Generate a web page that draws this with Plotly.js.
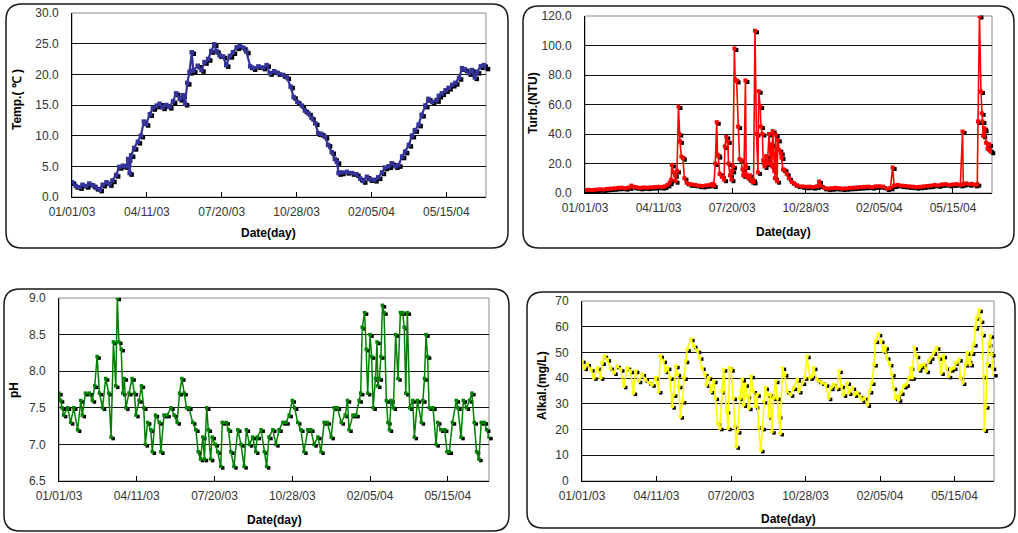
<!DOCTYPE html>
<html><head><meta charset="utf-8">
<script src="https://cdn.plot.ly/plotly-3.0.1.min.js"></script>
<style>html,body{margin:0;padding:0;background:#fff}#chart{width:1018px;height:533px}</style>
</head><body><div id="chart"></div>
<script>
const W = 1018, H = 533;

// x axis: days since 01/01/03
const tickDays = [0, 100, 200, 300, 400, 500];
const tickText = ['01/01/03', '04/11/03', '07/20/03', '10/28/03', '02/05/04', '05/15/04'];

// Temperature (deg C)
const tempDay = [0,5,10,14,19,23,28,32,37,41,46,50,54,59,63,68,72,75,77,79,83,88,92,96,99,104,108,113,117,121,126,130,135,139,144,148,151,154,157,160,162,168,173,177,182,186,190,193,197,202,206,211,215,220,224,229,233,238,242,249,255,260,264,270,275,282,287,292,296,301,307,311,316,320,325,329,333,338,342,347,351,354,356,360,367,374,380,385,389,394,398,404,409,414,418,423,427,432,436,441,445,450,454,458,463,467,472,476,481,487,490,494,499,503,508,512,517,521,525,530,534,538,541,546,550,553];
const tempVal = [2.4,1.8,1.6,2.0,1.8,2.2,1.9,1.5,1.2,2.0,2.4,2.1,2.7,3.6,4.9,5.1,5.0,6.2,3.9,6.8,8.0,9.0,10.0,12.3,11.9,13.5,14.5,14.9,15.2,14.6,15.0,14.7,15.6,16.9,16.0,16.6,15.2,18.6,20.4,23.6,20.6,21.4,20.7,22.0,22.5,23.8,24.9,23.8,23.1,22.9,21.5,23.0,23.6,24.4,24.6,24.3,23.7,21.3,21.0,21.3,21.1,21.5,20.2,20.5,20.2,19.9,19.5,18.0,16.3,15.5,14.9,14.1,13.6,12.9,12.0,10.4,10.3,9.8,8.5,7.3,6.2,5.7,3.9,4.0,4.1,3.9,3.7,3.0,2.6,3.3,2.9,2.8,3.2,4.0,4.8,5.0,5.5,5.0,5.2,6.6,7.4,8.5,10.0,10.9,11.8,13.4,14.9,16.0,15.5,15.8,16.5,16.9,17.4,17.8,18.3,18.6,19.4,21.0,20.8,20.2,20.7,19.5,20.4,21.3,21.5,21.1];

// Turbidity (NTU)
const turbDay = [0,5,10,15,20,25,30,35,40,45,50,55,60,63,66,70,75,80,85,90,95,100,105,108,112,115,117,118,120,122,123,125,127,128,129,131,133,135,138,142,145,150,155,160,165,170,173,175,177,179,180,181,183,186,189,190,192,194,195,197,199,200,201,203,204,206,208,210,212,214,215,216,218,219,220,222,224,226,228,229,231,233,235,236,238,239,241,242,243,244,246,247,248,250,252,253,254,255,257,258,259,261,262,264,266,267,269,271,274,277,281,285,289,295,300,305,310,315,318,320,325,330,335,340,345,350,355,360,365,370,375,380,385,390,395,400,405,410,415,418,420,425,430,435,440,445,450,455,460,465,470,475,480,485,490,495,500,505,510,513,514,518,522,526,530,533,534,536,538,539,540,541,542,543,545,547,549,550,552];
const turbVal = [2.0,2.2,2.0,2.3,2.5,2.4,2.8,3.0,3.2,3.5,3.6,3.3,3.8,5.0,4.2,3.9,3.5,3.8,3.6,3.9,4.0,4.2,4.0,4.5,5.5,7.0,9.0,19.0,14.0,12.0,8.0,15.0,58.6,40.0,35.0,24.7,23.6,10.0,7.0,6.0,5.8,5.5,5.0,4.8,5.2,5.5,6.2,5.0,20.0,48.0,26.0,25.0,13.0,11.0,9.0,31.5,38.0,35.0,20.0,12.0,9.0,15.0,18.0,98.0,77.0,76.0,45.0,23.0,22.0,16.0,12.0,13.0,76.3,18.0,11.0,10.0,12.0,8.0,9.0,7.5,110.0,40.0,14.0,69.0,58.6,45.0,40.0,22.0,20.0,18.0,25.0,22.0,20.0,40.0,20.0,33.0,18.0,42.0,15.0,10.0,39.4,8.0,36.0,29.0,27.0,24.0,16.0,15.7,13.0,10.0,7.5,6.0,5.0,4.5,4.2,4.3,4.0,4.5,7.8,5.0,3.5,3.0,3.2,3.5,3.3,3.0,3.2,3.5,3.6,3.8,4.0,4.2,4.3,4.0,4.5,4.6,4.3,3.0,3.5,17.3,5.0,5.5,5.0,4.8,4.5,4.3,4.0,4.2,4.5,4.8,5.0,5.5,5.2,5.8,6.0,5.5,5.8,6.0,5.5,41.7,6.0,6.5,6.0,6.2,5.5,6.0,48.5,120.0,68.8,54.0,48.5,38.8,44.0,42.8,34.0,30.0,33.0,29.0,28.0];

// pH
const phDay = [0,2,4,6,11,15,19,24,28,30,34,39,43,46,49,52,56,60,64,67,70,73,75,77,80,82,84,86,90,94,97,99,103,106,109,111,114,118,120,124,129,131,135,139,144,148,152,155,158,161,164,167,172,176,179,182,185,187,190,192,195,197,201,204,208,210,215,218,221,225,230,234,238,241,245,249,253,255,260,264,267,270,275,279,283,288,292,296,300,303,307,311,315,320,324,328,333,337,341,345,350,354,358,363,368,371,373,378,382,386,388,390,393,395,397,400,402,404,407,409,410,412,414,416,418,421,423,425,427,430,433,436,439,442,444,446,448,451,455,457,461,466,468,470,472,474,476,481,485,487,491,496,499,502,506,511,513,517,520,524,528,531,534,537,540,543,547,550,553];
const phVal = [7.7,7.6,7.5,7.4,7.5,7.3,7.5,7.2,7.6,7.4,7.7,7.7,7.6,7.8,8.2,7.7,7.5,7.9,7.7,7.1,8.4,7.8,9.0,8.4,8.3,7.7,7.9,7.5,7.7,7.9,7.7,7.4,7.6,7.8,7.5,7.0,7.3,7.2,6.9,7.4,7.3,6.9,7.4,7.4,7.5,7.4,7.3,7.7,7.9,7.7,7.5,7.5,7.3,7.2,6.9,6.8,7.1,6.8,7.5,7.2,6.8,7.1,7.0,6.9,6.7,7.3,7.3,7.2,6.9,6.7,7.2,7.0,6.7,7.2,7.0,7.1,6.9,7.1,7.2,6.9,6.7,7.1,7.2,7.0,7.2,7.3,7.3,7.4,7.6,7.5,7.3,7.2,6.9,7.2,7.2,7.0,7.1,6.9,7.3,7.3,7.1,7.5,7.5,7.3,7.4,7.6,7.2,7.4,7.4,7.6,7.7,8.6,8.8,8.3,7.7,8.5,8.2,7.5,7.9,8.4,7.8,7.9,8.2,8.9,8.8,7.6,7.3,7.2,7.6,7.5,8.5,7.9,8.8,8.8,8.6,7.7,8.8,7.5,7.6,7.1,7.6,7.3,7.6,7.9,8.5,8.2,7.5,7.5,7.0,7.3,7.2,7.2,6.9,6.9,7.3,7.6,7.5,7.1,7.6,7.5,7.6,7.7,7.3,6.9,6.8,7.3,7.3,7.2,7.1];

// Alkalinity (mg/L)
const alkDay = [0,3,7,12,16,21,25,27,30,34,38,43,47,52,56,61,65,69,72,76,81,85,90,94,99,103,105,109,112,115,118,121,123,126,128,130,132,135,137,139,141,146,150,155,158,161,165,167,170,173,177,179,182,185,188,190,194,196,198,200,203,205,207,209,212,215,217,219,222,224,227,230,233,235,237,240,242,244,246,249,251,253,255,257,260,262,264,266,269,272,275,280,284,289,291,296,299,302,306,309,311,315,318,322,327,331,334,338,342,345,348,351,356,358,363,366,369,373,376,379,383,386,389,392,394,398,401,405,407,409,413,416,418,421,423,425,428,432,435,439,441,443,446,449,452,455,459,462,465,468,472,476,479,482,485,489,492,495,499,502,506,508,511,515,517,519,521,523,526,528,530,533,535,537,539,540,542,544,546,548,550,551,553];
const alkVal = [46.7,44.0,45.4,43.4,40.2,44.0,40.2,46.0,48.6,47.3,44.0,42.1,44.7,43.4,36.9,44.0,42.8,34.3,42.8,38.9,41.5,39.5,38.2,37.5,40.2,34.9,48.6,46.7,42.8,44.0,40.2,29.0,33.6,44.7,41.5,36.9,25.1,31.0,40.2,46.7,51.2,55.2,52.5,50.6,48.0,44.0,41.5,37.5,40.2,34.9,38.9,32.3,22.5,20.6,34.9,43.4,27.1,20.6,44.0,43.4,32.3,21.2,13.4,19.3,32.3,39.5,29.7,37.5,33.0,28.4,40.8,34.9,29.0,33.6,21.2,12.0,20.6,31.0,36.2,33.6,25.1,33.6,19.3,32.3,38.9,32.3,25.1,18.6,44.0,41.5,34.9,33.6,36.2,39.5,34.9,38.2,40.2,48.6,40.2,40.8,44.0,39.5,38.9,38.2,37.5,32.3,36.2,37.5,36.2,42.8,36.9,33.6,38.2,34.3,36.2,33.6,34.3,33.0,31.7,32.3,29.7,34.9,38.2,45.4,54.5,57.1,54.5,50.6,51.9,48.0,45.4,41.5,36.2,32.3,33.0,31.7,34.3,36.9,37.5,40.2,44.0,40.2,51.9,48.6,43.4,44.7,45.4,42.8,46.7,48.0,49.9,51.9,48.0,42.1,48.6,44.0,40.8,43.4,44.0,46.0,47.3,40.2,38.2,45.4,49.9,46.7,45.4,49.9,53.2,59.7,63.6,66.5,62.3,57.1,40.8,19.9,29.0,45.4,53.2,56.5,49.3,44.0,41.5];

const FONT = 'Liberation Sans, Arial, sans-serif';
const xMax = 553;

const panels = [
  {day: tempDay, val: tempVal, color: '#333399', lw: 2.2, ms: 4.5, yr: [0, 30], dt: 5, fmt: '.1f', plot: [72, 13, 486, 197], frame: [6, 4, 508, 248], yt: 'Temp.( ℃ )', ytp: [17, 100], xtp: [268, 233]},
  {day: turbDay, val: turbVal, color: '#ff0000', lw: 1.6, ms: 4, yr: [0, 120], dt: 20, fmt: '.1f', plot: [585, 16, 992, 193], frame: [523, 6, 1014, 248], yt: 'Turb.(NTU)', ytp: [533, 103], xtp: [783, 232]},
  {day: phDay, val: phVal, color: '#008000', lw: 1.5, ms: 3.5, yr: [6.5, 9.0], dt: 0.5, fmt: '.1f', plot: [59, 298, 489, 481], frame: [4, 289, 509, 531], yt: 'pH', ytp: [14, 390], xtp: [274, 520]},
  {day: alkDay, val: alkVal, color: '#ffff00', lw: 1.6, ms: 3.5, yr: [0, 70], dt: 10, fmt: 'd', plot: [582, 301, 994, 481], frame: [527, 292, 1015, 528], yt: 'Alkal.(mg/L)', ytp: [542, 386], xtp: [788, 519]}
];

const X = px => px / W;
const Y = py => 1 - py / H;

function roundRect(x0, y0, x1, y1, r) {
  return 'M' + X(x0 + r) + ',' + Y(y0) + ' L' + X(x1 - r) + ',' + Y(y0) +
    ' Q' + X(x1) + ',' + Y(y0) + ' ' + X(x1) + ',' + Y(y0 + r) +
    ' L' + X(x1) + ',' + Y(y1 - r) +
    ' Q' + X(x1) + ',' + Y(y1) + ' ' + X(x1 - r) + ',' + Y(y1) +
    ' L' + X(x0 + r) + ',' + Y(y1) +
    ' Q' + X(x0) + ',' + Y(y1) + ' ' + X(x0) + ',' + Y(y1 - r) +
    ' L' + X(x0) + ',' + Y(y0 + r) +
    ' Q' + X(x0) + ',' + Y(y0) + ' ' + X(x0 + r) + ',' + Y(y0) + ' Z';
}

const data = [];
const layout = {
  width: W, height: H,
  margin: {l: 0, r: 0, t: 0, b: 0},
  paper_bgcolor: '#ffffff', plot_bgcolor: 'rgba(0,0,0,0)',
  showlegend: false,
  shapes: [], annotations: []
};
const sfx = n => (n === 1 ? '' : String(n));
const dx = 2, dy = 1.5;

// shadow subplots first (drawn underneath)
panels.forEach((p, i) => {
  const n = i + 1;
  const [l, t, r, b] = p.plot;
  layout['xaxis' + sfx(n)] = {domain: [X(l + dx), X(r + dx)], range: [0, xMax], visible: false, anchor: 'y' + sfx(n), fixedrange: true};
  layout['yaxis' + sfx(n)] = {domain: [Y(b + dy), Y(t + dy)], range: p.yr, visible: false, anchor: 'x' + sfx(n), fixedrange: true};
  data.push({x: p.day, y: p.val, xaxis: 'x' + sfx(n), yaxis: 'y' + sfx(n), type: 'scatter', mode: 'markers',
    marker: {symbol: 'square', size: p.ms, color: '#000000'}, hoverinfo: 'skip', cliponaxis: false});
});

panels.forEach((p, i) => {
  const n = i + 5;
  const [l, t, r, b] = p.plot;
  layout['xaxis' + n] = {
    domain: [X(l), X(r)], range: [0, xMax], anchor: 'y' + n,
    tickmode: 'array', tickvals: tickDays, ticktext: tickText,
    ticks: 'inside', ticklen: 5, tickwidth: 1, tickcolor: '#000',
    showline: true, linecolor: '#000', linewidth: 1,
    showgrid: false, zeroline: false,
    tickfont: {family: FONT, size: 12, color: '#333'}, ticklabelstandoff: 4, fixedrange: true
  };
  layout['yaxis' + n] = {
    domain: [Y(b), Y(t)], range: p.yr, anchor: 'x' + n,
    tickmode: 'linear', tick0: p.yr[0], dtick: p.dt, tickformat: p.fmt,
    ticks: '', showline: true, linecolor: '#000', linewidth: 1,
    showgrid: true, gridcolor: '#111', gridwidth: 1, zeroline: false,
    tickfont: {family: FONT, size: 12, color: '#333'}, ticklabelstandoff: 10, fixedrange: true
  };
  data.push({x: p.day, y: p.val, xaxis: 'x' + n, yaxis: 'y' + n, type: 'scatter', mode: 'lines+markers',
    line: {color: p.color, width: p.lw}, marker: {symbol: 'square', size: p.ms, color: p.color}, hoverinfo: 'skip'});

  // plot-area outline (gray) and panel rounded frame
  layout.shapes.push({type: 'rect', xref: 'paper', yref: 'paper', x0: X(l), x1: X(r), y0: Y(b), y1: Y(t), line: {color: '#8c8c8c', width: 1}, layer: 'below'});
  const [fx0, fy0, fx1, fy1] = p.frame;
  layout.shapes.push({type: 'path', xref: 'paper', yref: 'paper', path: roundRect(fx0, fy0, fx1, fy1, 16), line: {color: '#1a1a1a', width: 1.5}});

  layout.annotations.push({text: '<b>' + p.yt + '</b>', xref: 'paper', yref: 'paper', x: X(p.ytp[0]), y: Y(p.ytp[1]), xanchor: 'center', yanchor: 'middle', textangle: -90, showarrow: false, font: {family: FONT, size: 12, color: '#000'}});
  layout.annotations.push({text: '<b>Date(day)</b>', xref: 'paper', yref: 'paper', x: X(p.xtp[0]), y: Y(p.xtp[1]), xanchor: 'center', yanchor: 'middle', showarrow: false, font: {family: FONT, size: 12, color: '#000'}});
});

Plotly.newPlot('chart', data, layout, {displayModeBar: false, staticPlot: true});
</script>
</body></html>
